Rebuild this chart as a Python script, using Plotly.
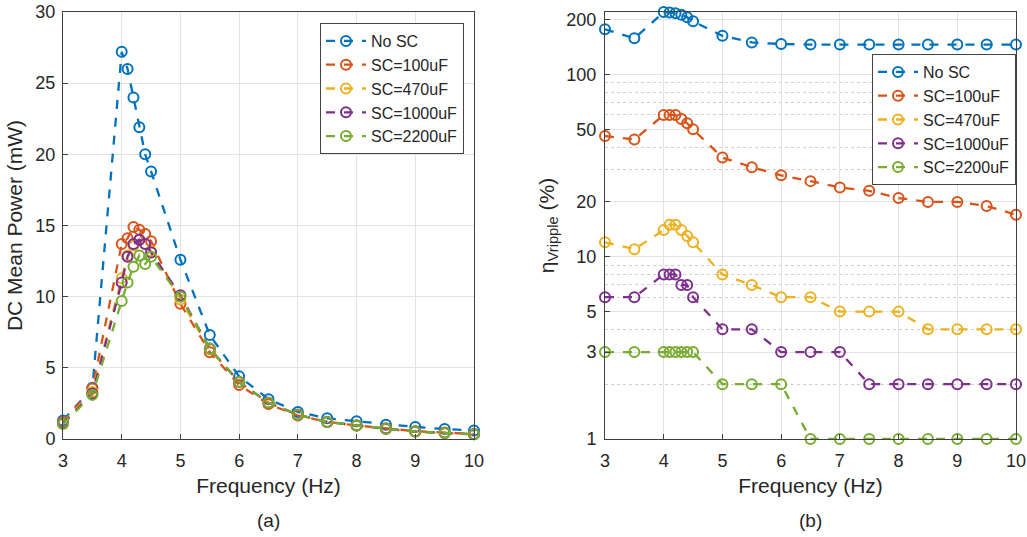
import plotly.graph_objects as go

freq = [3, 3.5, 4, 4.1, 4.2, 4.3, 4.4, 4.5, 5, 5.5, 6, 6.5, 7, 7.5, 8, 8.5, 9, 9.5, 10]
series_names = ["No SC", "SC=100uF", "SC=470uF", "SC=1000uF", "SC=2200uF"]

power_nosc = [1.3, 3.6, 27.2, 26.0, 24.0, 21.9, 20.0, 18.8, 12.6, 7.3, 4.4, 2.8, 1.9, 1.45, 1.25, 1.0, 0.85, 0.7, 0.6]
power_100 = [1.2, 3.55, 13.7, 14.1, 14.9, 14.7, 14.4, 13.9, 9.5, 6.1, 3.8, 2.45, 1.65, 1.2, 0.95, 0.75, 0.55, 0.45, 0.35]
power_470 = [1.15, 3.3, 11.3, 12.9, 13.6, 14.0, 13.7, 13.2, 9.8, 6.3, 4.0, 2.55, 1.7, 1.2, 0.95, 0.72, 0.52, 0.42, 0.33]
power_1000 = [1.1, 3.2, 11.0, 12.8, 13.7, 14.0, 13.7, 13.1, 10.1, 6.35, 4.0, 2.55, 1.7, 1.2, 0.95, 0.72, 0.52, 0.42, 0.33]
power_2200 = [1.05, 3.1, 9.7, 11.0, 12.1, 12.9, 12.3, 12.8, 10.0, 6.35, 4.0, 2.55, 1.7, 1.2, 0.95, 0.72, 0.52, 0.42, 0.33]

ripple_nosc = [177, 158, 220, 219, 217, 213, 206, 196, 163, 150, 147, 146, 146, 146, 146, 146, 146, 146, 146]
ripple_100 = [46, 44, 60, 60, 60, 57, 54, 50, 35, 31, 28, 26, 24, 23, 21, 20, 20, 19, 17]
ripple_470 = [12, 11, 14, 15, 15, 14, 13, 12, 8, 7, 6, 6, 5, 5, 5, 4, 4, 4, 4]
ripple_1000 = [6, 6, 8, 8, 8, 7, 7, 6, 4, 4, 3, 3, 3, 2, 2, 2, 2, 2, 2]
ripple_2200 = [3, 3, 3, 3, 3, 3, 3, 3, 2, 2, 2, 1, 1, 1, 1, 1, 1, 1, 1]

left_ticks = [0, 5, 10, 15, 20, 25, 30]
right_ticks = [1, 3, 5, 10, 20, 50, 100, 200]
right_minor = [2, 4, 6, 7, 8, 9, 30, 40, 60, 70, 80, 90]
x_ticks = [3, 4, 5, 6, 7, 8, 9, 10]

colors = ["#0072BD", "#D95319", "#EDB120", "#7E2F8E", "#77AC30"]
power_sets = [power_nosc, power_100, power_470, power_1000, power_2200]
ripple_sets = [ripple_nosc, ripple_100, ripple_470, ripple_1000, ripple_2200]

W, H = 1027, 537
FONT = "Liberation Sans"
AX = "#404040"
TXT = "#262626"
GRID = "#e3e3e3"

plot_top, plot_bot = 12, 439
plot_h = plot_bot - plot_top


def px_x(p):
    return p / W


def px_y(p):
    return (plot_bot - p) / plot_h


fig = go.Figure()
for name, col, ys in zip(series_names, colors, power_sets):
    fig.add_trace(go.Scatter(
        x=freq, y=ys, name=name, mode="lines+markers",
        line=dict(color=col, width=2.3, dash="dash"),
        marker=dict(symbol="circle-open", size=10, color=col, line=dict(width=2, color=col)),
        xaxis="x", yaxis="y", legend="legend", cliponaxis=False))
for name, col, ys in zip(series_names, colors, ripple_sets):
    fig.add_trace(go.Scatter(
        x=freq, y=ys, name=name, mode="lines+markers",
        line=dict(color=col, width=2.3, dash="dash"),
        marker=dict(symbol="circle-open", size=10, color=col, line=dict(width=2, color=col)),
        xaxis="x2", yaxis="y2", legend="legend2", cliponaxis=False))

common_axis = dict(
    showline=True, linecolor=AX, linewidth=1, mirror=True,
    ticks="inside", ticklen=5, tickcolor=AX,
    showgrid=True, gridcolor=GRID, gridwidth=1,
    zeroline=False, automargin=False,
    tickfont=dict(family=FONT, size=18, color=TXT),
)
title_font = dict(family=FONT, size=21, color=TXT)
legend_style = dict(bgcolor="white", bordercolor="#444444", borderwidth=1,
                    font=dict(family=FONT, size=16, color=TXT),
                    tracegroupgap=0, itemwidth=40)

fig.update_layout(
    width=W, height=H,
    template="none",
    paper_bgcolor="white", plot_bgcolor="white",
    margin=dict(l=0, r=0, t=plot_top, b=H - plot_bot),
    font=dict(family=FONT, size=16, color=TXT),
    xaxis=dict(domain=[px_x(63), px_x(474)], range=[3, 10], tickvals=x_ticks,
               anchor="y", ticklabelstandoff=5,
               title=dict(text="Frequency (Hz)", font=title_font, standoff=8),
               **common_axis),
    yaxis=dict(domain=[0, 1], range=[0, 30], tickvals=left_ticks, anchor="x",
               ticklabelstandoff=3,
               title=dict(text="DC Mean Power (mW)", font=title_font, standoff=7),
               **common_axis),
    xaxis2=dict(domain=[px_x(605), px_x(1016)], range=[3, 10], tickvals=x_ticks,
                anchor="y2", ticklabelstandoff=5,
                title=dict(text="Frequency (Hz)", font=title_font, standoff=8),
                **common_axis),
    yaxis2=dict(domain=[0, 1], type="log", range=[0, 2.343], tickvals=right_ticks,
                ticktext=[str(v) for v in right_ticks], anchor="x2",
                ticklabelstandoff=4,
                minor=dict(tickvals=right_minor, showgrid=True, griddash="dot",
                           gridcolor="#cfcfcf", ticks=""),
                title=dict(text="η<sub>Vripple</sub> (%)", font=title_font, standoff=6),
                **common_axis),
    legend=dict(x=px_x(464), xanchor="right", y=px_y(23), yanchor="top", **legend_style),
    legend2=dict(x=px_x(1016), xanchor="right", y=px_y(54), yanchor="top", **legend_style),
    annotations=[
        dict(text="(a)", x=px_x(268), y=px_y(520), xref="paper", yref="paper",
             xanchor="center", yanchor="middle",
             showarrow=False, font=dict(family=FONT, size=19, color=TXT)),
        dict(text="(b)", x=px_x(810), y=px_y(520), xref="paper", yref="paper",
             xanchor="center", yanchor="middle",
             showarrow=False, font=dict(family=FONT, size=19, color=TXT)),
    ],
)

fig.write_html("out.html",
               config={"displayModeBar": False},
               post_script="document.body.style.margin='0px';document.body.style.overflow='hidden';")
